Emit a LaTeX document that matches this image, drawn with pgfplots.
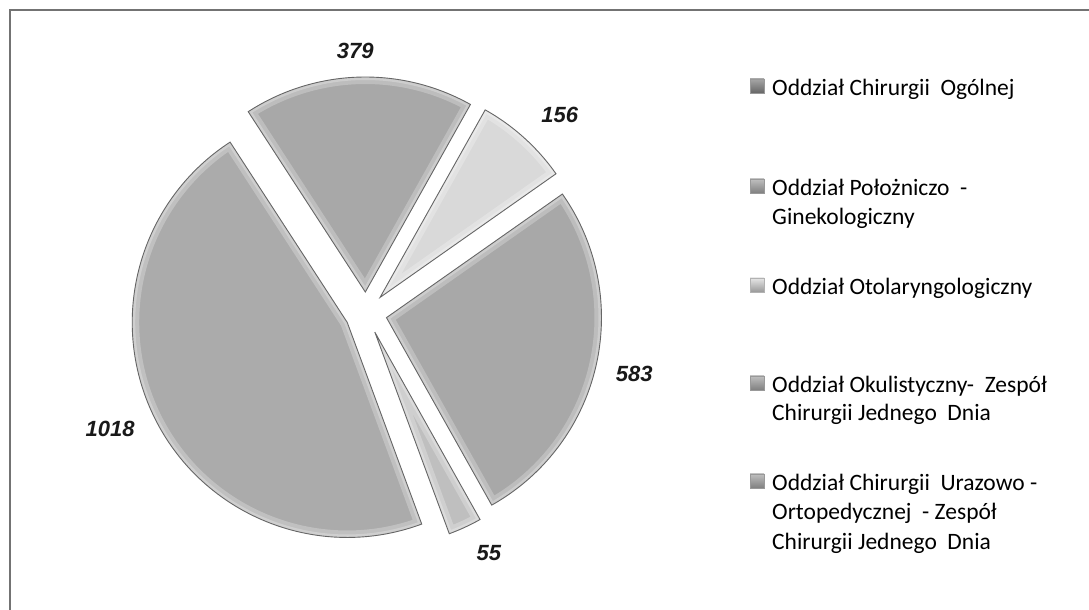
\documentclass[border=0pt]{standalone}
\usepackage{pgfplots}
\usepackage{pgfplotstable}
\pgfplotsset{compat=1.18}
\usepackage{fontspec}
\setmainfont{Carlito}
\newfontfamily\labfont{Liberation Sans}

% value, fill shade (percent black), label distance, label angle offset
\pgfplotstableread{
value fillc ldist lda
379  34 262  0.5
156  15 277 -2.3
583  34 275  0.0
55   25 270  2.3
1018 33 281 -2.2
}\piedata

\newcommand\slicepath[1]{\path[#1] (axis cs:\ox,\oy) -- ++(\cur:215bp) arc[start angle=\cur,end angle=\aend,radius=215bp] -- cycle;}

\begin{document}
\begin{tikzpicture}
\begin{axis}[x=1bp,y=1bp,xmin=0,xmax=1089,ymin=0,ymax=610,
  hide axis,scale only axis,clip=false]
\addplot[draw=none,forget plot] coordinates {(0,0) (1089,610)};
\pgfplotsextra{
  \xdef\total{0}
  \foreach \i in {0,...,4}{%
    \pgfplotstablegetelem{\i}{value}\of\piedata
    \pgfmathparse{\total+\pgfplotsretval}\xdef\total{\pgfmathresult}}
  \xdef\cur{123}
  \foreach \i in {0,...,4}{%
    \pgfplotstablegetelem{\i}{value}\of\piedata \let\val\pgfplotsretval
    \pgfplotstablegetelem{\i}{fillc}\of\piedata \let\fc\pgfplotsretval
    \pgfplotstablegetelem{\i}{ldist}\of\piedata \let\ld\pgfplotsretval
    \pgfplotstablegetelem{\i}{lda}\of\piedata \let\lda\pgfplotsretval
    \pgfmathsetmacro\angspan{360*(\val/\total)}
    \pgfmathsetmacro\aend{\cur-\angspan}
    \pgfmathsetmacro\amid{\cur-\angspan/2}
    \pgfmathsetmacro\ox{366+21*cos(\amid)}
    \pgfmathsetmacro\oy{297+21*sin(\amid)}
    \pgfmathsetmacro\lx{366+\ld*cos(\amid+\lda)}
    \pgfmathsetmacro\ly{297+\ld*sin(\amid+\lda)}
    \slicepath{fill=black!\fc}
    \begin{scope}
      \slicepath{clip}
      \slicepath{draw=white,line width=14bp,opacity=0.25}
      \slicepath{draw=white,line width=6bp,opacity=0.25}
    \end{scope}
    \slicepath{draw=black!60,line width=0.9bp}
    \node[font=\labfont\bfseries\itshape\fontsize{22bp}{26bp}\selectfont,text=black!90]
      at (axis cs:\lx,\ly) {\val};
    \xdef\cur{\aend}
  }
}
% frame (top and left edges)
\draw[black!55,line width=1.5bp] (axis cs:10,0) -- (axis cs:10,600) -- (axis cs:1089,600);
% legend
\shade[top color=black!35,bottom color=black!60,draw=black!40] (axis cs:750,517) rectangle (axis cs:764,531);
\shade[top color=black!25,bottom color=black!50,draw=black!40] (axis cs:750,417) rectangle (axis cs:764,431);
\shade[top color=black!10,bottom color=black!40,draw=black!30] (axis cs:750,318) rectangle (axis cs:764,332);
\shade[top color=black!25,bottom color=black!50,draw=black!40] (axis cs:750,220) rectangle (axis cs:764,234);
\shade[top color=black!25,bottom color=black!50,draw=black!40] (axis cs:750,122) rectangle (axis cs:764,136);
\begin{scope}[every node/.style={anchor=base west,inner sep=0pt,font=\fontsize{23.5bp}{28bp}\selectfont,text=black}]
\node at (axis cs:772,514.5) {Oddział Chirurgii~ Ogólnej};
\node at (axis cs:772,414.5) {Oddział Położniczo~ -};
\node at (axis cs:772,385.5) {Ginekologiczny};
\node at (axis cs:772,315.5) {Oddział Otolaryngologiczny};
\node at (axis cs:772,217.5) {Oddział Okulistyczny-~ Zespół};
\node at (axis cs:772,189.5) {Chirurgii Jednego~ Dnia};
\node at (axis cs:772,119.5) {Oddział Chirurgii~ Urazowo -};
\node at (axis cs:772,90.5) {Ortopedycznej~ - Zespół};
\node at (axis cs:772,60.5) {Chirurgii Jednego~ Dnia};
\end{scope}
\end{axis}
\pgfresetboundingbox
\path[use as bounding box] (current axis.south west) rectangle (current axis.north east);
\end{tikzpicture}
\end{document}
